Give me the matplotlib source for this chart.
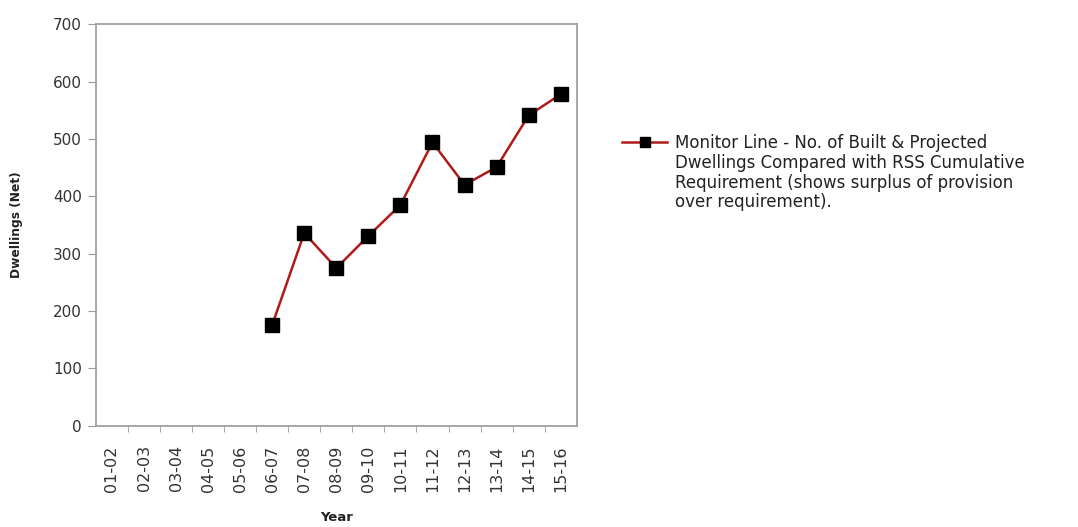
import matplotlib.pyplot as plt

# categories and values
years = ["01-02", "02-03", "03-04", "04-05", "05-06", "06-07", "07-08", "08-09",
         "09-10", "10-11", "11-12", "12-13", "13-14", "14-15", "15-16"]
monitor_years = ["06-07", "07-08", "08-09", "09-10", "10-11", "11-12",
                 "12-13", "13-14", "14-15", "15-16"]
monitor_values = [176, 336, 275, 331, 385, 494, 420, 451, 541, 578]
y_ticks = [0, 100, 200, 300, 400, 500, 600, 700]

legend_first = "Monitor Line - No. of Built & Projected"
legend_rest = ("Dwellings Compared with RSS Cumulative\n"
               "Requirement (shows surplus of provision\n"
               "over requirement).")

plt.rcParams["font.family"] = ["DejaVu Sans"]

W, H = 1078, 527
fig = plt.figure(figsize=(W / 100, H / 100), dpi=100)
ax = fig.add_axes([0.089, 0.192, 0.446, 0.762])

xpos = [years.index(y) for y in monitor_years]
line, = ax.plot(xpos, monitor_values, color="#b01a1a", lw=1.8, marker="s",
                markersize=10.5, markerfacecolor="black", markeredgecolor="black")

ax.set_xlim(-0.5, len(years) - 0.5)
ax.set_ylim(0, 700)
ax.set_yticks(y_ticks)
ax.set_xticks(range(len(years)))
ax.set_xticklabels(years, rotation=90, fontsize=11.5, color="#333333")
ax.tick_params(axis="x", length=0, pad=14)
ax.set_xticks([i + 0.5 for i in range(len(years) - 1)], minor=True)
ax.tick_params(axis="x", which="minor", length=4, color="#999999", direction="out")
ax.tick_params(axis="y", labelsize=11, length=6, pad=4, color="#999999",
               labelcolor="#333333")

for s in ax.spines.values():
    s.set_color("#a0a0a0")
    s.set_linewidth(1.3)

ax.set_ylabel("Dwellings (Net)", fontsize=8.8, fontweight="bold", color="#222222")
ax.yaxis.set_label_coords(-0.152, 0.5)
ax.set_xlabel("Year", fontsize=9.5, fontweight="bold", color="#222222")
ax.xaxis.set_label_coords(0.5, -0.213)

leg = fig.legend([line], [legend_first], loc="center left",
                 bbox_to_anchor=(622 / W, 1 - 143 / H), frameon=False,
                 fontsize=12, handlelength=2.7, handletextpad=0.5,
                 markerscale=0.7, borderaxespad=0, borderpad=0)
for t in leg.get_texts():
    t.set_color("#222222")

# remaining legend lines set under the first, aligned with its text
fig.canvas.draw()
bb = leg.get_texts()[0].get_window_extent()
fig.text(bb.x0 / W, (bb.y0 - 2) / H, legend_rest, va="top", ha="left",
         fontsize=12, color="#222222", linespacing=1.12)

fig.savefig("out.png", dpi=100)
